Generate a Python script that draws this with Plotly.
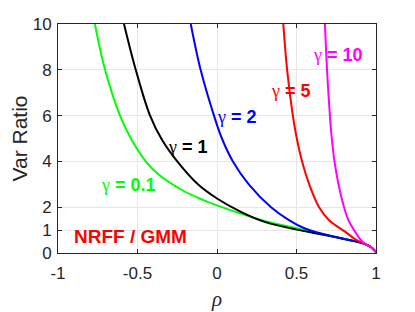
import plotly.graph_objects as go

# ---- data ----
gammas = ["0.1", "1", "2", "5", "10"]
colors = ["#00ff00", "#000000", "#0000ff", "#ff0000", "#ff00ff"]

rho_g01 = [-0.768, -0.704, -0.61, -0.535, -0.448, -0.375, -0.218, -0.082, 0.0, 0.15, 0.3, 0.5, 0.65, 0.8, 0.925, 0.967, 1.0]
var_g01 = [10, 8, 6, 4.92, 4, 3.47, 2.74, 2.30, 2.08, 1.72, 1.40, 1.08, 0.84, 0.62, 0.41, 0.26, 0.04]

rho_g1 = [-0.585, -0.511, -0.421, -0.344, -0.25, -0.12, 0.0, 0.15, 0.3, 0.5, 0.65, 0.8, 0.925, 0.967, 1.0]
var_g1 = [10, 8, 6, 4.92, 4, 3.0, 2.38, 1.80, 1.36, 1.02, 0.82, 0.61, 0.41, 0.26, 0.04]

rho_g2 = [-0.165, -0.103, -0.019, 0.031, 0.10, 0.20, 0.34, 0.45, 0.55, 0.65, 0.75, 0.85, 0.925, 0.967, 1.0]
var_g2 = [10, 8, 6, 5, 4, 3, 2, 1.45, 1.08, 0.86, 0.69, 0.54, 0.41, 0.26, 0.04]

rho_g5 = [0.417, 0.441, 0.477, 0.502, 0.535, 0.58, 0.642, 0.705, 0.807, 0.881, 0.94, 0.97, 1.0]
var_g5 = [10, 8, 6, 5, 4, 3, 2, 1.43, 0.92, 0.55, 0.36, 0.25, 0.04]

rho_g10 = [0.679, 0.692, 0.71, 0.722, 0.739, 0.764, 0.799, 0.826, 0.862, 0.907, 0.94, 0.97, 1.0]
var_g10 = [10, 8, 6, 5, 4, 3, 2, 1.45, 1.0, 0.55, 0.36, 0.25, 0.04]

series_rho = [rho_g01, rho_g1, rho_g2, rho_g5, rho_g10]
series_var = [var_g01, var_g1, var_g2, var_g5, var_g10]

x_ticks = [-1, -0.5, 0, 0.5, 1]
x_ticklabels = ["-1", "-0.5", "0", "0.5", "1"]
y_ticks = [0, 1, 2, 4, 6, 8, 10]

# label anchor positions (data coords)
label_x = [-0.557, -0.183, 0.128, 0.468, 0.76]
label_y = [2.96, 4.62, 5.94, 7.07, 8.63]

fig = go.Figure()
for r, v, c in zip(series_rho, series_var, colors):
    fig.add_trace(go.Scatter(x=r, y=v, mode="lines",
                             line=dict(color=c, width=2, shape="spline", smoothing=1.0),
                             showlegend=False, hoverinfo="skip"))

for g, c, lx, ly in zip(gammas, colors, label_x, label_y):
    fig.add_annotation(x=lx, y=ly, xref="x", yref="y", showarrow=False,
                       text="<span style=\"font-family:'Liberation Serif';font-weight:normal\">γ</span><b> = " + g + "</b>",
                       font=dict(family="Liberation Sans", size=18, color=c))

fig.add_annotation(x=-0.545, y=0.73, xref="x", yref="y", showarrow=False,
                   text="<b>NRFF / GMM</b>",
                   font=dict(family="Liberation Sans", size=19, color="#ff0000"))

axis_common = dict(showline=True, linecolor="#262626", linewidth=1, mirror="ticks",
                   ticks="inside", ticklen=4, tickcolor="#262626", automargin=False,
                   showgrid=True, gridcolor="#e6e6e6", gridwidth=1, zeroline=False,
                   tickfont=dict(family="Liberation Sans", size=17, color="#262626"))

fig.update_xaxes(range=[-1, 1], tickvals=x_ticks, ticktext=x_ticklabels,
                 title=dict(text="<i>ρ</i>", font=dict(family="Liberation Serif", size=21, color="#262626"), standoff=8),
                 ticklabelstandoff=5, **axis_common)
fig.update_yaxes(range=[0, 10], tickvals=y_ticks,
                 title=dict(text="Var Ratio", font=dict(family="Liberation Sans", size=21, color="#262626"), standoff=10),
                 ticklabelstandoff=2, **axis_common)

fig.update_layout(width=415, height=312, margin=dict(l=50, r=47, t=16, b=67),
                  plot_bgcolor="white", paper_bgcolor="white")

fig.write_html("out.html")
